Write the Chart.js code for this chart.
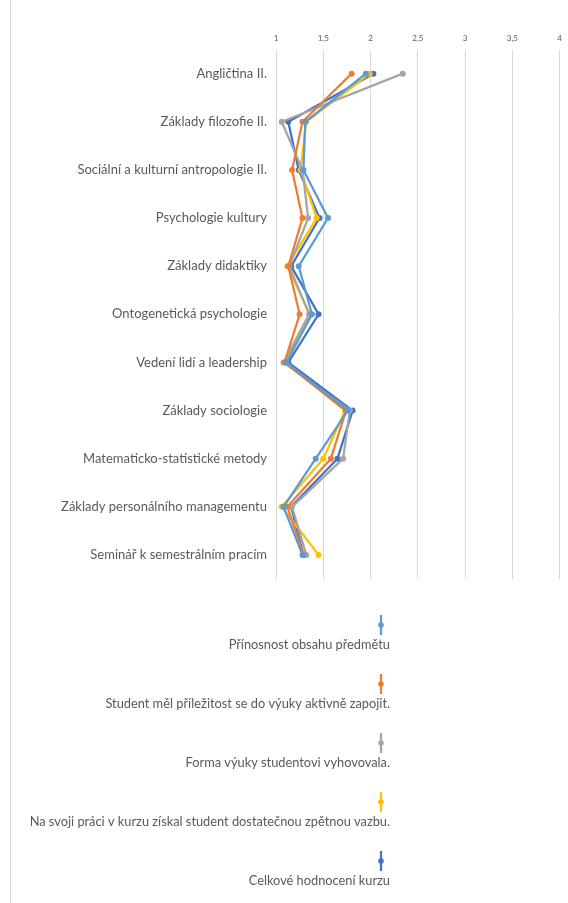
<!DOCTYPE html>
<html>
<head>
<meta charset="utf-8">
<script src="https://cdn.jsdelivr.net/npm/chart.js@4/dist/chart.umd.min.js"></script>
<style>
html,body{margin:0;padding:0;background:#fff;}
#wrap{position:relative;width:568px;height:903px;}
#frame{position:absolute;left:10px;top:0;width:0;height:903px;border-left:1px solid #d9d9d9;}
canvas{position:absolute;left:0;top:0;}
</style>
</head>
<body>
<div id="wrap"><div id="frame"></div><canvas id="c" width="568" height="903"></canvas></div>
<script>
const categories = [
  "Angličtina II.",
  "Základy filozofie II.",
  "Sociální a kulturní antropologie II.",
  "Psychologie kultury",
  "Základy didaktiky",
  "Ontogenetická psychologie",
  "Vedení lidí a leadership",
  "Základy sociologie",
  "Matematicko-statistické metody",
  "Základy personálního managementu",
  "Seminář k semestrálním pracím"
];
const seriesNames = [
  "Přínosnost obsahu předmětu",
  "Student měl příležitost se do výuky aktivně zapojit.",
  "Forma výuky studentovi vyhovovala.",
  "Na svoji práci v kurzu získal student dostatečnou zpětnou vazbu.",
  "Celkové hodnocení kurzu"
];
const prinosnost = [1.95, 1.31, 1.29, 1.55, 1.24, 1.38, 1.11, 1.76, 1.42, 1.08, 1.28];
const zapojeni   = [1.80, 1.28, 1.17, 1.28, 1.13, 1.25, 1.09, 1.74, 1.58, 1.12, 1.29];
const forma      = [2.34, 1.06, 1.28, 1.34, 1.14, 1.35, 1.08, 1.78, 1.71, 1.17, 1.32];
const zpetnaVazba= [1.99, 1.32, 1.26, 1.43, 1.12, 1.36, 1.10, 1.73, 1.50, 1.06, 1.45];
const celkove    = [2.03, 1.13, 1.24, 1.46, 1.16, 1.45, 1.13, 1.81, 1.65, 1.16, 1.29];
const xTicks = [1, 1.5, 2, 2.5, 3, 3.5, 4];
const colors = ["#5B9BD5", "#ED7D31", "#A5A5A5", "#FFC000", "#4472C4"];
const values = [prinosnost, zapojeni, forma, zpetnaVazba, celkove];

const FONT = "Lato, 'Open Sans', sans-serif";

const legendPlugin = {
  id: 'customLegend',
  afterDraw(chart) {
    const ctx = chart.ctx;
    ctx.save();
    chart.data.datasets.forEach((ds, i) => {
      const my = 625 + i * 59;
      const mx = 381;
      ctx.strokeStyle = ds.borderColor;
      ctx.lineWidth = 2.25;
      ctx.beginPath();
      ctx.moveTo(mx, my - 10);
      ctx.lineTo(mx, my + 10);
      ctx.stroke();
      ctx.fillStyle = ds.borderColor;
      ctx.beginPath();
      ctx.arc(mx, my, 2.8, 0, Math.PI * 2);
      ctx.fill();
      ctx.fillStyle = '#595959';
      ctx.font = "12.8px " + FONT;
      ctx.textAlign = 'right';
      ctx.textBaseline = 'middle';
      ctx.fillText(ds.label, 390, my + 20);
    });
    ctx.restore();
  }
};

new Chart(document.getElementById('c'), {
  type: 'line',
  data: {
    labels: categories,
    datasets: values.map((v, i) => ({
      label: seriesNames[i],
      data: v,
      borderColor: colors[i],
      backgroundColor: colors[i],
      borderWidth: 2.25,
      pointRadius: 3,
      pointBorderWidth: 0,
      pointBackgroundColor: colors[i],
      tension: 0,
      fill: false
    }))
  },
  options: {
    indexAxis: 'y',
    responsive: false,
    animation: false,
    events: [],
    layout: { padding: { left: 0, right: 7, top: 28, bottom: 324 } },
    plugins: { legend: { display: false }, tooltip: { enabled: false } },
    scales: {
      x: {
        type: 'linear',
        position: 'top',
        min: 1,
        max: 4,
        afterBuildTicks(scale) { scale.ticks = xTicks.map(v => ({ value: v })); },
        ticks: {
          color: '#595959',
          font: { size: 8, family: FONT },
          padding: 6,
          callback: v => String(v).replace('.', ',')
        },
        grid: { color: '#d9d9d9', drawTicks: false },
        border: { display: false }
      },
      y: {
        type: 'category',
        offset: true,
        afterFit(scale) { scale.width = 276; },
        ticks: {
          color: '#595959',
          font: { size: 13, family: FONT },
          padding: 9,
          autoSkip: false
        },
        grid: { display: false, drawTicks: false },
        border: { display: false }
      }
    }
  },
  plugins: [legendPlugin]
});
</script>
</body>
</html>
